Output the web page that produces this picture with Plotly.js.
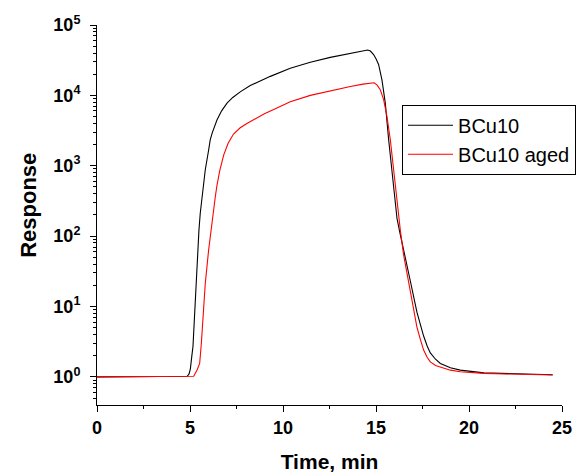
<!DOCTYPE html>
<html>
<head>
<meta charset="utf-8">
<script src="https://cdn.plot.ly/plotly-3.0.1.min.js"></script>
<style>html,body{margin:0;padding:0;background:#fff;}#chart{width:576px;height:475px;}</style>
</head>
<body>
<div id="chart"></div>
<script>
// BCu10 (black)
var timeA = [0, 1, 2, 3, 4, 4.7, 4.85, 4.95, 5.02, 5.1, 5.16, 5.22, 5.28, 5.35, 5.41, 5.48, 5.55, 5.66, 5.82, 6.0, 6.09, 6.2, 6.45, 6.7, 6.99, 7.3, 7.7, 8.24, 8.78, 9.32, 10.39, 11.47, 12.54, 13.62, 14.42, 14.55, 14.7, 14.87, 15.0, 15.14, 15.32, 15.5, 15.68, 15.86, 16.0, 16.13, 16.3, 16.48, 16.84, 17.2, 17.4, 17.56, 17.75, 17.92, 18.2, 18.46, 19.0, 19.53, 20.8, 22, 23.3, 24.5];
var respA = [1, 1, 1, 1, 1, 1, 1.02, 1.1, 1.3, 2, 2.7, 5.5, 12, 30, 63, 120, 210, 380, 871, 1660, 2344, 2950, 4467, 6026, 7762, 9333, 11220, 13800, 16218, 18620, 24266, 29512, 34674, 39811, 43652, 44150, 42660, 38000, 33100, 27540, 16600, 7760, 2340, 759, 316, 178, 107, 66, 23.4, 8.3, 5.25, 3.8, 2.75, 2.19, 1.78, 1.55, 1.35, 1.245, 1.14, 1.11, 1.09, 1.07];
// BCu10 aged (red)
var timeB = [0, 1, 2, 3, 4, 5.0, 5.2, 5.38, 5.52, 5.61, 5.70, 5.82, 6.0, 6.2, 6.36, 6.45, 6.6, 6.81, 7.05, 7.34, 7.7, 8.06, 8.5, 9.0, 9.5, 10.39, 11.47, 12.54, 13.62, 14.3, 14.75, 14.9, 15.05, 15.23, 15.41, 15.59, 15.77, 15.95, 16.13, 16.31, 16.48, 16.84, 17.2, 17.4, 17.56, 17.75, 17.92, 18.2, 18.63, 19.0, 19.53, 20.8, 22, 23.3, 24.5];
var respB = [1, 1, 1, 1, 1, 1, 1.02, 1.25, 1.55, 3, 7.1, 21, 63, 180, 363, 525, 850, 1413, 2089, 2818, 3467, 3981, 4677, 5495, 6310, 8128, 10000, 11614, 13335, 14454, 15066, 15136, 14125, 12023, 8710, 5012, 2344, 871, 295, 120, 55, 17, 5.1, 3.3, 2.4, 1.9, 1.63, 1.45, 1.32, 1.245, 1.18, 1.12, 1.1, 1.08, 1.06];

var yTickVals = [1, 10, 100, 1000, 10000, 100000];
var yTickText = ['10<sup>0</sup>', '10<sup>1</sup>', '10<sup>2</sup>', '10<sup>3</sup>', '10<sup>4</sup>', '10<sup>5</sup>'];
var xTickVals = [0, 5, 10, 15, 20, 25];
var seriesNames = ['BCu10', 'BCu10 aged'];
var xTitle = 'Time, min';
var yTitle = 'Response';

var yMinor = [];
for (var e = -1; e < 5; e++) {
  for (var m = 2; m <= 9; m++) {
    var v = m * Math.pow(10, e);
    if (v >= 0.45) yMinor.push(v);
  }
}

var font = 'Liberation Sans, Arial, sans-serif';
var data = [
  {x: timeA, y: respA, name: seriesNames[0], type: 'scatter', mode: 'lines', line: {color: '#000000', width: 1.1}},
  {x: timeB, y: respB, name: seriesNames[1], type: 'scatter', mode: 'lines', line: {color: '#ff0000', width: 1.1}}
];
var layout = {
  width: 576, height: 475,
  margin: {l: 97, r: 14, t: 25, b: 70, autoexpand: false},
  paper_bgcolor: '#fff', plot_bgcolor: '#fff',
  showlegend: true,
  legend: {x: 0.656, y: 0.79, xanchor: 'left', yanchor: 'top', bgcolor: '#fff', bordercolor: '#000', borderwidth: 1,
           font: {family: font, size: 20, color: '#000'}, tracegroupgap: 0, itemwidth: 45},
  xaxis: {
    range: [0, 25], showgrid: false, zeroline: false, showline: true, linecolor: '#000', linewidth: 1,
    tickmode: 'array', tickvals: xTickVals, ticks: 'outside', ticklen: 6, tickcolor: '#000',
    tickfont: {family: font, size: 18, color: '#000', weight: 'bold'},
    minor: {dtick: 2.5, tick0: 0, ticks: 'outside', ticklen: 3, tickcolor: '#000', showgrid: false},
    title: {text: '<b>' + xTitle + '</b>', font: {family: font, size: 21, color: '#000'}, standoff: 17}
  },
  yaxis: {
    type: 'log', range: [-0.4, 5], showgrid: false, zeroline: false, showline: true, linecolor: '#000', linewidth: 1,
    tickmode: 'array', tickvals: yTickVals, ticktext: yTickText, ticks: 'outside', ticklen: 6, tickcolor: '#000',
    tickfont: {family: font, size: 18, color: '#000', weight: 'bold'}, ticklabelstandoff: 6,
    minor: {tickmode: 'array', tickvals: yMinor, ticks: 'outside', ticklen: 3, tickcolor: '#000', showgrid: false}
  },
  annotations: [{
    text: '<b>' + yTitle + '</b>', textangle: -90, xref: 'paper', yref: 'paper',
    x: -0.149, y: 0.526, xanchor: 'center', yanchor: 'middle', showarrow: false,
    font: {family: font, size: 22, color: '#000'}
  }]
};
Plotly.newPlot('chart', data, layout, {displayModeBar: false, staticPlot: true});
</script>
</body>
</html>
